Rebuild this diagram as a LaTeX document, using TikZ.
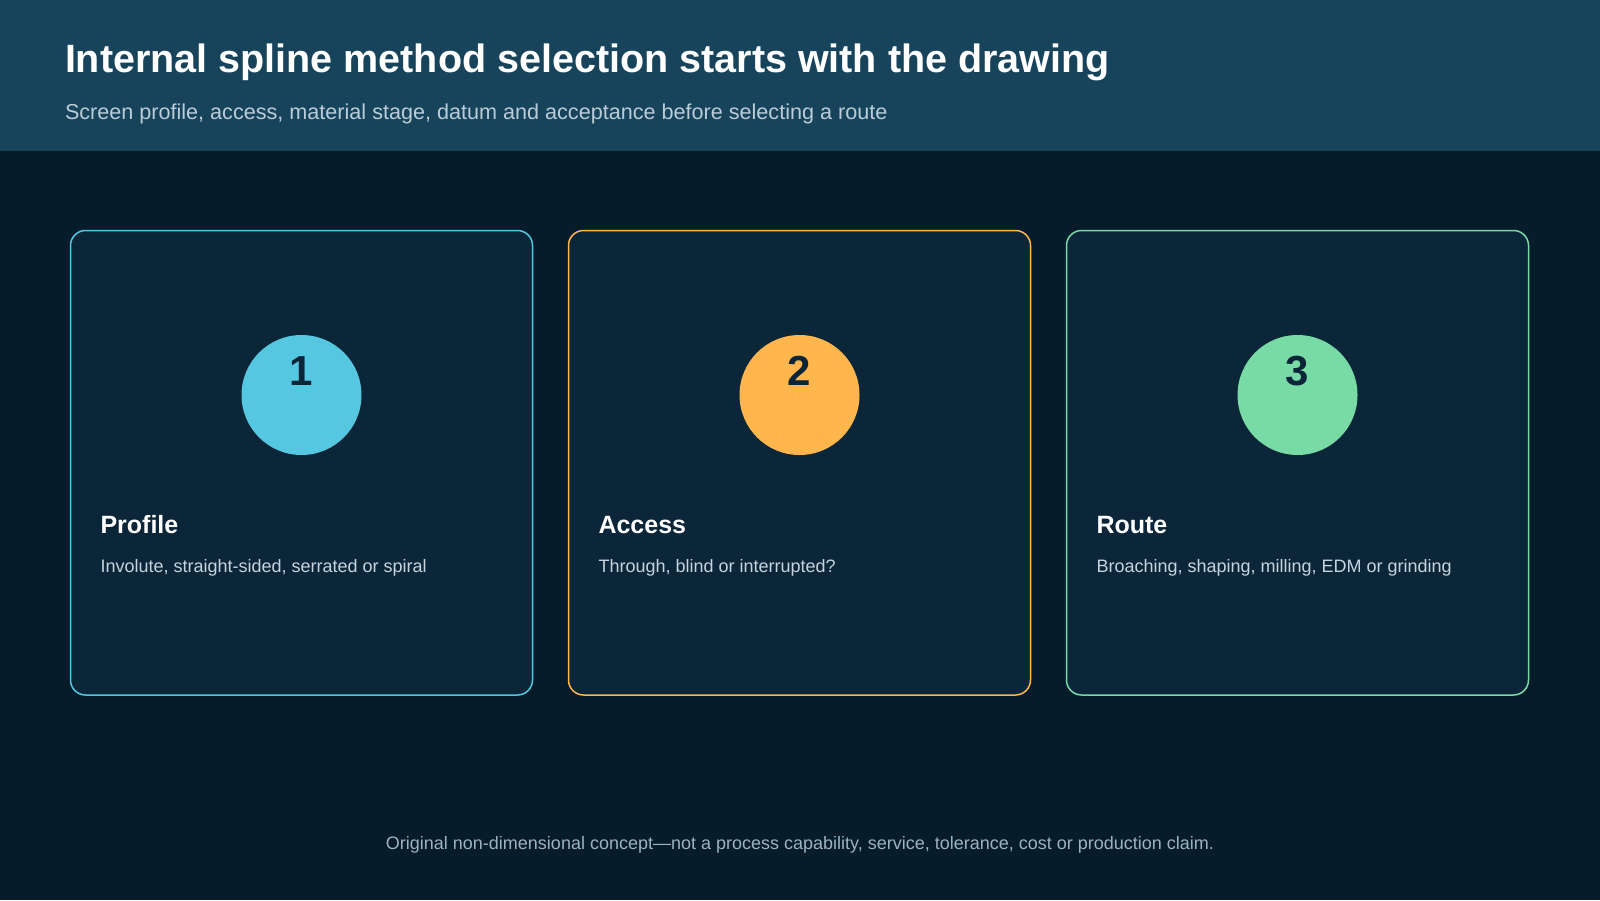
\documentclass[tikz,border=0pt]{standalone}
\usepackage{fontspec}
\setmainfont{Liberation Sans}
\definecolor{bgc}{HTML}{071C2B}
\definecolor{hdr}{HTML}{17445B}
\definecolor{cardc}{HTML}{0B2639}
\definecolor{cyanc}{HTML}{56C7E0}
\definecolor{orgc}{HTML}{FFB64D}
\definecolor{grnc}{HTML}{78DAA4}
\definecolor{numc}{HTML}{0B2538}
\definecolor{subc}{HTML}{B9CCD8}
\definecolor{descc}{HTML}{C6D4DE}
\definecolor{footc}{HTML}{9DB2C0}
\tikzset{
  txt/.style={inner sep=0pt, outer sep=0pt, anchor=base west},
  cardbox/.style={draw=#1, fill=cardc, line width=1.5pt, rounded corners=15pt},
  disc/.style={circle, fill=#1, minimum size=120pt, inner sep=0pt},
  numtxt/.style={inner sep=0pt, anchor=base, text=numc, font=\fontsize{42}{50}\selectfont\bfseries},
  headtxt/.style={txt, text=white, font=\fontsize{25}{30}\selectfont\bfseries},
  desctxt/.style={txt, text=descc, font=\fontsize{18}{22}\selectfont},
}
\begin{document}
\begin{tikzpicture}[x=1pt,y=-1pt]
\useasboundingbox (0,0) rectangle (1600,900);
\fill[bgc] (0,0) rectangle (1600,900);
\fill[hdr] (0,0) rectangle (1600,151);
\node[txt, text=white, font=\fontsize{39.5}{47}\selectfont\bfseries] (title) at (65,72) {Internal spline method selection starts with the drawing};
\node[txt, text=subc, font=\fontsize{21.6}{26}\selectfont] (subtitle) at (65,119) {Screen profile, access, material stage, datum and acceptance before selecting a route};
% cards
\draw[cardbox=cyanc] (70.5,230.5) rectangle (532.5,695) coordinate (card1);
\draw[cardbox=orgc] (568.5,230.5) rectangle (1030.5,695) coordinate (card2);
\draw[cardbox=grnc] (1066.5,230.5) rectangle (1528.5,695) coordinate (card3);
% discs
\node[disc=cyanc] (d1) at (301.5,395) {};
\node[disc=orgc] (d2) at (799.5,395) {};
\node[disc=grnc] (d3) at (1297.5,395) {};
\node[numtxt] (n1) at (301.5,385.5) {1};
\node[numtxt] (n2) at (799.5,385.5) {2};
\node[numtxt] (n3) at (1297.5,385.5) {3};
% headings
\node[headtxt] (h1) at (100.5,533) {Profile};
\node[headtxt] (h2) at (598.5,533) {Access};
\node[headtxt] (h3) at (1096.5,533) {Route};
\node[desctxt] (t1) at (100.5,572) {Involute, straight-sided, serrated or spiral};
\node[desctxt] (t2) at (598.5,572) {Through, blind or interrupted?};
\node[desctxt] (t3) at (1096.5,572) {Broaching, shaping, milling, EDM or grinding};
% footer
\node[inner sep=0pt, anchor=base, text=footc, font=\fontsize{18}{22}\selectfont] (foot) at (800,849) {Original non-dimensional concept—not a process capability, service, tolerance, cost or production claim.};
\end{tikzpicture}
\end{document}
